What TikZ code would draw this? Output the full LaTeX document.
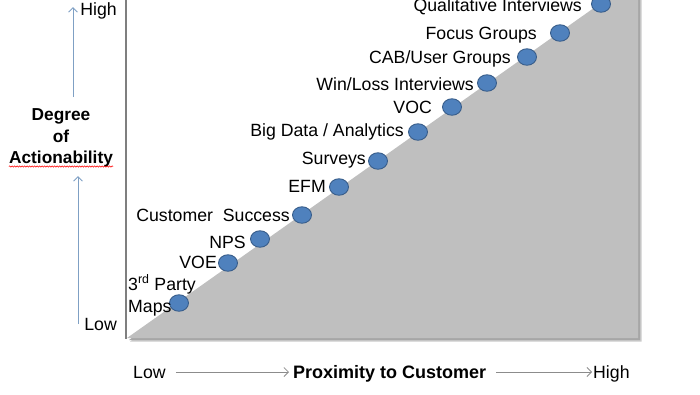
\documentclass[tikz,border=0pt]{standalone}
\usepackage{fontspec}
\setmainfont{Liberation Sans}
\usetikzlibrary{arrows.meta,decorations.pathmorphing,shapes.geometric}
\definecolor{panelgray}{HTML}{BFBFBF}
\definecolor{shadowgray}{HTML}{A6A6A6}
\definecolor{framegray}{HTML}{7F7F7F}
\definecolor{dotfill}{HTML}{4F81BD}
\definecolor{dotline}{HTML}{385D8A}
\definecolor{axisblue}{HTML}{7FA0C4}
\definecolor{axisgray}{HTML}{8C8C8C}
\tikzset{
  lbl/.style={inner sep=0pt, font=\fontsize{17.7pt}{21pt}\selectfont},
  blbl/.style={inner sep=0pt, font=\fontsize{17.3pt}{21pt}\selectfont\bfseries},
  dot/.style={ellipse, minimum width=19pt, minimum height=16.5pt, inner sep=0pt, fill=dotfill, draw=dotline, line width=0.9pt},
  varrow/.style={draw=axisblue, line width=0.9pt, -{Straight Barb[length=4.5pt,width=9pt]}},
  harrow/.style={draw=axisgray, line width=0.8pt, -{Straight Barb[length=4.5pt,width=9pt]}}
}
\begin{document}
\begin{tikzpicture}[x=1pt,y=-1pt]
\useasboundingbox (0,0) rectangle (700,394);
% panel shadow and panel
\fill[shadowgray!60] (130,341.5) -- (641.5,341.5) -- (641.5,-2) -- (611,-2) -- cycle;
\fill[shadowgray] (129,340) -- (640,340) -- (640,-2) -- (609,-2) -- cycle;
\fill[panelgray] (127,338) -- (638,338) -- (638,-2) -- (608,-2) -- cycle;
\draw[framegray, line width=1.4pt] (126,-2) -- (126,338.5);
% dots
\node[dot] (c1) at (179,303) {};
\node[dot] (c2) at (228,263) {};
\node[dot] (c3) at (260,239) {};
\node[dot] (c4) at (302,215) {};
\node[dot] (c5) at (339,187) {};
\node[dot] (c6) at (378,161) {};
\node[dot] (c7) at (418,132) {};
\node[dot] (c8) at (452,107) {};
\node[dot] (c9) at (487,83) {};
\node[dot] (c10) at (527,57) {};
\node[dot] (c11) at (560,33) {};
\node[dot] (c12) at (601,4) {};
% labels
\node[lbl, anchor=base west] (l1a) at (128,290) {3\textsuperscript{rd} Party};
\node[lbl, anchor=base west] (l1b) at (128,312) {Maps};
\node[lbl, anchor=base east] (l2) at (217,268) {VOE};
\node[lbl, anchor=base east] (l3) at (246,248) {NPS};
\node[lbl, anchor=base east] (l4) at (290,221) {Customer\ \ Success};
\node[lbl, anchor=base east] (l5) at (326,192) {EFM};
\node[lbl, anchor=base east] (l6) at (366,164) {Surveys};
\node[lbl, anchor=base east] (l7) at (404,136) {Big Data / Analytics};
\node[lbl, anchor=base east] (l8) at (432,113) {VOC};
\node[lbl, anchor=base east] (l9) at (474,90) {Win/Loss Interviews};
\node[lbl, anchor=base east] (l10) at (511,63) {CAB/User Groups};
\node[lbl, anchor=base east] (l11) at (537,39) {Focus Groups};
\node[lbl, anchor=base east] (l12) at (582,11) {Qualitative Interviews};
% vertical axis
\node[lbl, anchor=base east] (yhigh) at (117,15) {High};
\node[lbl, anchor=base east] (ylow) at (117,330) {Low};
\node[blbl, anchor=base] (ytitle1) at (61,120) {Degree};
\node[blbl, anchor=base] (ytitle2) at (61,142) {of};
\node[blbl, anchor=base] (ytitle3) at (61,163) {Actionability};
\draw[red, line width=0.5pt, decorate, decoration={snake, amplitude=0.7pt, segment length=2.5pt}] ([yshift=-3.5pt]ytitle3.base west) -- ([yshift=-3.5pt]ytitle3.base east);
\coordinate (va1) at (73,97);
\coordinate (va2) at (73,7);
\coordinate (vb1) at (78,324);
\coordinate (vb2) at (78,176);
\draw[varrow] (va1) -- (va2);
\draw[varrow] (vb1) -- (vb2);
% horizontal axis
\node[lbl, anchor=base west] (xlow) at (133,378) {Low};
\node[blbl, font=\fontsize{18pt}{21pt}\selectfont\bfseries, anchor=base west] (xtitle) at (293,378) {Proximity\ to Customer};
\node[lbl, anchor=base west] (xhigh) at (593,378) {High};
\draw[harrow] ([xshift=10pt,yshift=6pt]xlow.base east) -- ([xshift=-4pt,yshift=6pt]xtitle.base west);
\draw[harrow] ([xshift=10pt,yshift=6pt]xtitle.base east) -- ([xshift=-1pt,yshift=6pt]xhigh.base west);
\end{tikzpicture}
\end{document}
